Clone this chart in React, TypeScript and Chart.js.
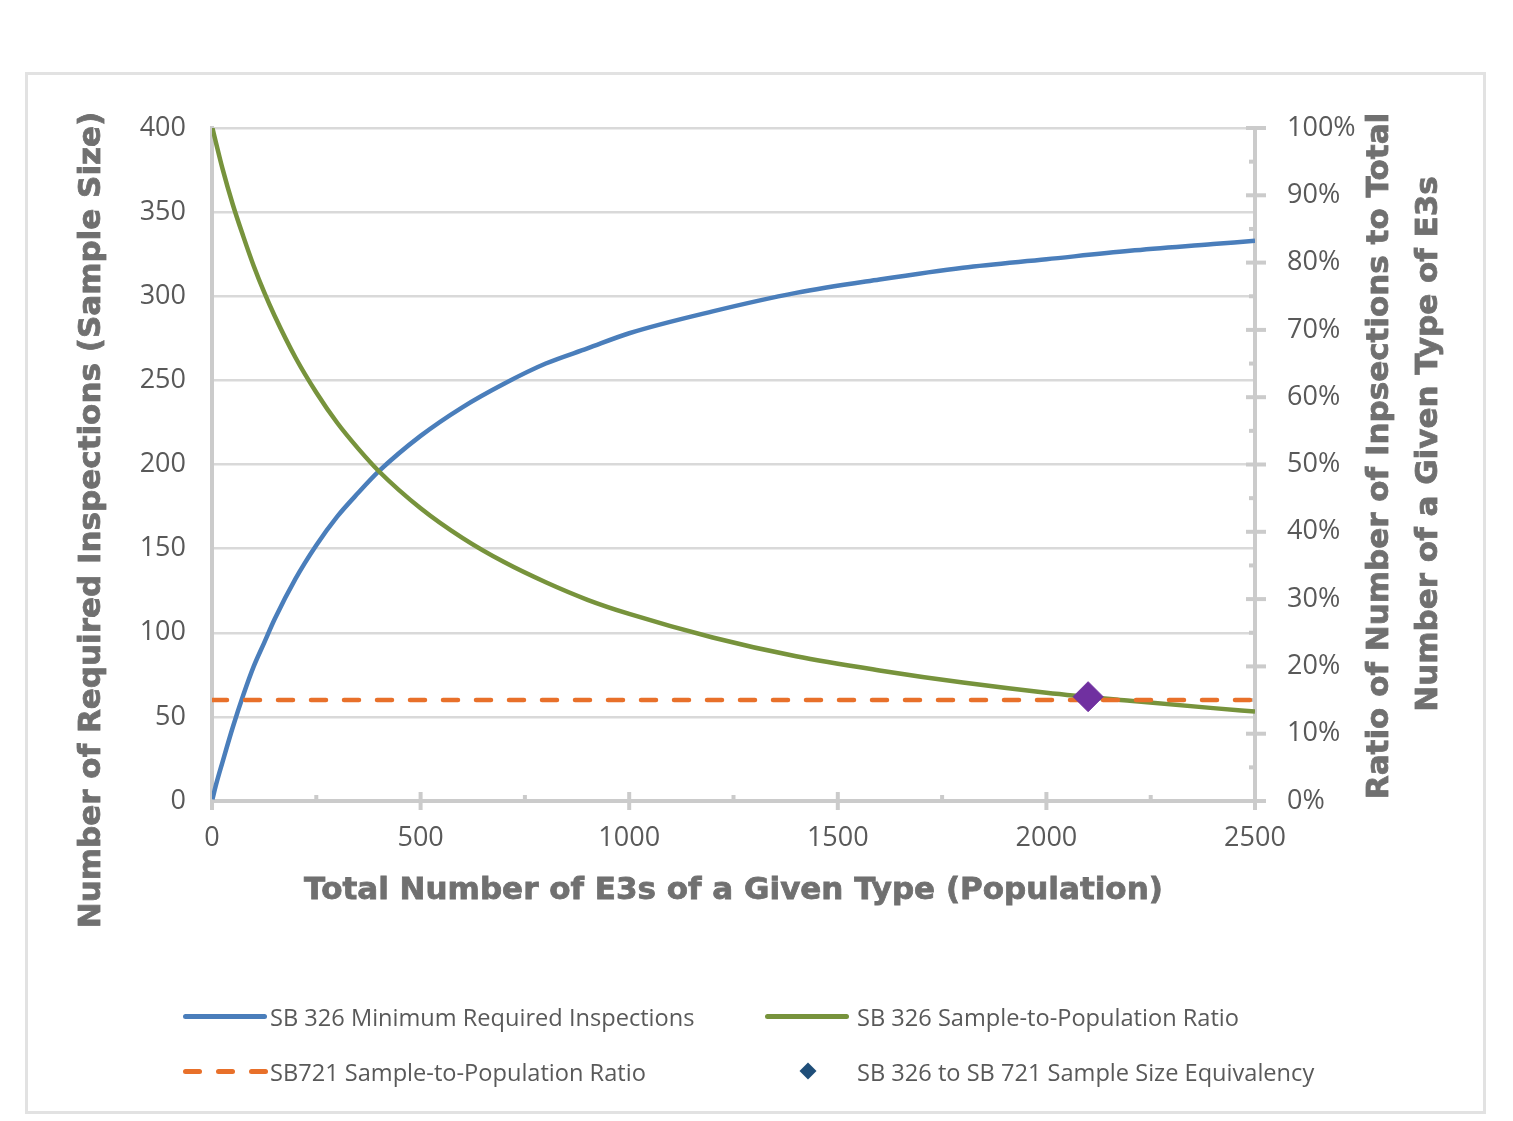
import React, { useEffect, useRef } from 'react';
import { Chart, registerables } from 'chart.js';

Chart.register(...registerables);

// ---- data ----
const population = [1, 10, 25, 50, 75, 100, 125, 150, 200, 250, 300, 350, 400, 500, 600, 700, 800, 900, 1000, 1200, 1400, 1600, 1800, 2000, 2200, 2400, 2500];
const minInspections = [1, 10, 23, 44, 63, 80, 94, 108, 132, 152, 169, 183, 196, 217, 234, 248, 260, 269, 278, 291, 302, 310, 317, 322, 327, 331, 333];
const sampleRatioPct = [100, 97.7, 94, 88.6, 83.9, 79.5, 75.6, 72.1, 65.9, 60.7, 56.2, 52.4, 49.0, 43.5, 39.1, 35.5, 32.5, 29.9, 27.8, 24.3, 21.5, 19.4, 17.6, 16.1, 14.9, 13.8, 13.3];
const sb721Population = [0, 2500];
const sb721RatioPct = [15, 15];
const equivalencyPopulation = [2100];
const equivalencyRatioPct = [15.5];

const seriesNames = [
  'SB 326 Minimum Required Inspections',
  'SB 326 Sample-to-Population Ratio',
  'SB721 Sample-to-Population Ratio',
  'SB 326 to SB 721 Sample Size Equivalency',
];
const xTitle = 'Total Number of E3s of a Given Type (Population)';
const yLeftTitle = 'Number of Required Inspections (Sample Size)';
const yRightTitle = ['Ratio of Number of Inpsections to Total', 'Number of a Given Type of E3s'];

const X_MIN = 0, X_MAX = 2500, X_STEP = 500, X_MINOR = 250;
const YL_MIN = 0, YL_MAX = 400, YL_STEP = 50;
const YR_MIN = 0, YR_MAX = 100, YR_STEP = 10, YR_MINOR = 5;

const BLUE = '#4a7ebb';
const GREEN = '#77933c';
const ORANGE = '#e8702a';
const PURPLE = '#7030a0';
const NAVY = '#1f4e79';
const AXIS = '#cbcbcb';
const GRID = '#d9d9d9';
const TICK_TEXT = '#595959';
const TITLE_TEXT = '#707070';
const FONT = '"Open Sans", sans-serif';
const TITLE_FONT = '"DejaVu Sans", sans-serif';

const pairs = (xs: number[], ys: number[]) => xs.map((x, i) => ({ x, y: ys[i] }));

const decorPlugin = {
  id: 'decor',
  beforeDatasetsDraw(chart: any) {
    const ctx = chart.ctx;
    const x = chart.scales.x;
    const yr = chart.scales.y1;
    const area = chart.chartArea;
    ctx.save();
    ctx.strokeStyle = AXIS;
    ctx.lineWidth = 4;
    for (let v = X_MIN; v <= X_MAX; v += X_MINOR) {
      const px = x.getPixelForValue(v);
      const major = v % X_STEP === 0;
      ctx.beginPath();
      ctx.moveTo(px, area.bottom - (major ? 9 : 6));
      ctx.lineTo(px, area.bottom + (major ? 9 : 0));
      ctx.stroke();
    }
    for (let v = YR_MIN; v <= YR_MAX; v += YR_MINOR) {
      const py = yr.getPixelForValue(v);
      const major = v % YR_STEP === 0;
      ctx.beginPath();
      ctx.moveTo(area.right - (major ? 9 : 6), py);
      ctx.lineTo(area.right + (major ? 11 : 0), py);
      ctx.stroke();
    }
    ctx.restore();
  },
  afterDraw(chart: any) {
    const ctx = chart.ctx;
    const area = chart.chartArea;
    const draw = (text: string) => {
      ctx.fillText(text, 0, 0);
      ctx.strokeText(text, 0, 0);
    };
    ctx.save();
    ctx.fillStyle = TITLE_TEXT;
    ctx.strokeStyle = TITLE_TEXT;
    ctx.lineWidth = 0.8;
    ctx.font = `bold 31px ${TITLE_FONT}`;
    ctx.textAlign = 'center';
    ctx.textBaseline = 'middle';
    ctx.save();
    ctx.translate((area.left + area.right) / 2, area.bottom + 90);
    draw(xTitle);
    ctx.restore();
    ctx.save();
    ctx.translate(area.left - 120, area.top + 392);
    ctx.rotate(-Math.PI / 2);
    draw(yLeftTitle);
    ctx.restore();
    ctx.save();
    ctx.translate(area.right + 125, area.top + 328);
    ctx.rotate(-Math.PI / 2);
    draw(yRightTitle[0]);
    ctx.restore();
    ctx.save();
    ctx.translate(area.right + 174, area.top + 316);
    ctx.rotate(-Math.PI / 2);
    draw(yRightTitle[1]);
    ctx.restore();
    ctx.restore();
  },
};

function LegendLine({ left, top, color, dashed }: { left: number; top: number; color: string; dashed?: boolean }) {
  if (dashed) {
    return (
      <>
        {[0, 33, 66].map((o) => (
          <div key={o} style={{ position: 'absolute', left: left + o, top: top - 2.5, width: 19, height: 5, borderRadius: 3, background: color }} />
        ))}
      </>
    );
  }
  return <div style={{ position: 'absolute', left, top: top - 2.5, width: 84, height: 5, borderRadius: 3, background: color }} />;
}

function LegendText({ left, top, text }: { left: number; top: number; text: string }) {
  return (
    <div style={{ position: 'absolute', left, top: top - 16, height: 32, lineHeight: '32px', fontFamily: FONT, fontSize: 23.6, color: TICK_TEXT, whiteSpace: 'nowrap' }}>
      {text}
    </div>
  );
}

export default function App() {
  const ref = useRef<HTMLCanvasElement>(null);

  useEffect(() => {
    if (!ref.current) return;
    const tickFont = { family: FONT, size: 27 };
    const chart = new Chart(ref.current, {
      type: 'line',
      data: {
        datasets: [
          {
            label: seriesNames[0],
            data: pairs(population, minInspections),
            yAxisID: 'y',
            borderColor: BLUE,
            borderWidth: 4.5,
            pointRadius: 0,
            cubicInterpolationMode: 'monotone',
            order: 3,
          },
          {
            label: seriesNames[1],
            data: pairs(population, sampleRatioPct),
            yAxisID: 'y1',
            borderColor: GREEN,
            borderWidth: 4.5,
            pointRadius: 0,
            cubicInterpolationMode: 'monotone',
            order: 2,
          },
          {
            label: seriesNames[2],
            data: pairs(sb721Population, sb721RatioPct),
            yAxisID: 'y1',
            borderColor: ORANGE,
            borderWidth: 4.5,
            borderDash: [15, 18],
            borderCapStyle: 'round',
            pointRadius: 0,
            order: 1,
          },
          {
            label: seriesNames[3],
            data: pairs(equivalencyPopulation, equivalencyRatioPct),
            yAxisID: 'y1',
            showLine: false,
            pointStyle: 'rectRot',
            pointRadius: 15,
            pointBackgroundColor: PURPLE,
            pointBorderColor: PURPLE,
            pointBorderWidth: 1,
            order: 0,
          },
        ],
      } as any,
      options: {
        animation: false,
        responsive: false,
        maintainAspectRatio: false,
        layout: { padding: { left: 112, right: 158, top: 128, bottom: 260 } },
        plugins: { legend: { display: false }, tooltip: { enabled: false } },
        scales: {
          x: {
            type: 'linear',
            min: X_MIN,
            max: X_MAX,
            afterFit: (s: any) => { s.height = 60; },
            ticks: { stepSize: X_STEP, font: tickFont, color: TICK_TEXT, padding: 21, maxRotation: 0, callback: (v: any) => String(v) },
            grid: { drawOnChartArea: false, drawTicks: false },
            border: { color: AXIS, width: 4 },
          },
          y: {
            type: 'linear',
            position: 'left',
            min: YL_MIN,
            max: YL_MAX,
            afterFit: (s: any) => { s.width = 100; },
            ticks: { stepSize: YL_STEP, font: tickFont, color: TICK_TEXT, padding: 26 },
            grid: { color: GRID, lineWidth: 2.5, drawTicks: false },
            border: { color: AXIS, width: 4 },
          },
          y1: {
            type: 'linear',
            position: 'right',
            min: YR_MIN,
            max: YR_MAX,
            afterFit: (s: any) => { s.width = 100; },
            ticks: { stepSize: YR_STEP, font: tickFont, color: TICK_TEXT, padding: 32, callback: (v: any) => `${v}%` },
            grid: { drawOnChartArea: false, drawTicks: false },
            border: { color: AXIS, width: 4 },
          },
        },
      } as any,
      plugins: [decorPlugin],
    });
    return () => chart.destroy();
  }, []);

  return (
    <div style={{ position: 'fixed', left: 0, top: 0, width: 1513, height: 1121, background: '#fff', overflow: 'hidden' }}>
      <div style={{ position: 'absolute', left: 25, top: 72, width: 1455, height: 1036, border: '3px solid #e2e2e2' }} />
      <canvas ref={ref} width={1513} height={1121} style={{ position: 'absolute', left: 0, top: 0, width: 1513, height: 1121 }} />
      <LegendLine left={183} top={1016.5} color={BLUE} />
      <LegendText left={270} top={1016.5} text={seriesNames[0]} />
      <LegendLine left={765} top={1016.5} color={GREEN} />
      <LegendText left={857} top={1016.5} text={seriesNames[1]} />
      <LegendLine left={183} top={1071.5} color={ORANGE} dashed />
      <LegendText left={270} top={1071.5} text={seriesNames[2]} />
      <div style={{ position: 'absolute', left: 801.5, top: 1065, width: 12, height: 12, background: NAVY, transform: 'rotate(45deg)' }} />
      <LegendText left={857} top={1071.5} text={seriesNames[3]} />
    </div>
  );
}
